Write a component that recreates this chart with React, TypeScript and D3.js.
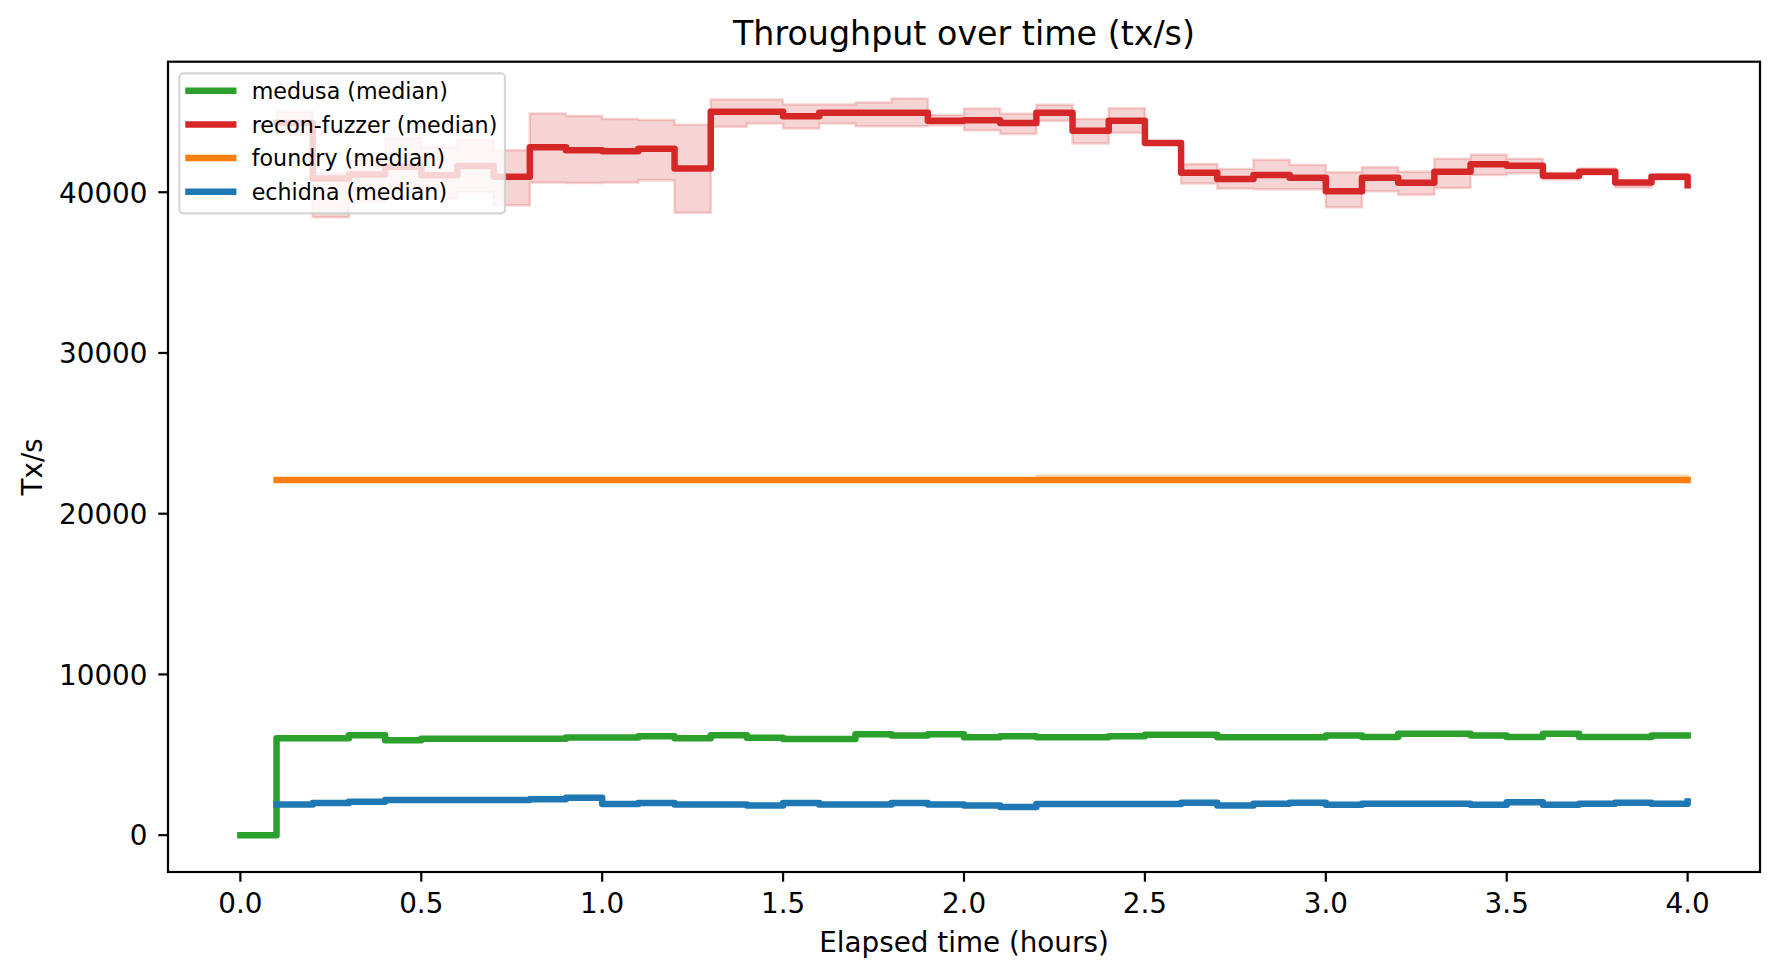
import React from "react";
import * as d3 from "d3";

const WIDTH = 1780;
const HEIGHT = 978;

// Elapsed time samples (hours)
const MEDUSA_HOURS = [0.0, 0.1, 0.2, 0.3, 0.4, 0.5, 0.6, 0.7, 0.8, 0.9, 1.0, 1.1, 1.2, 1.3, 1.4, 1.5, 1.6, 1.7, 1.8, 1.9, 2.0, 2.1, 2.2, 2.3, 2.4, 2.5, 2.6, 2.7, 2.8, 2.9, 3.0, 3.1, 3.2, 3.3, 3.4, 3.5, 3.6, 3.7, 3.8, 3.9, 4.0];
const HOURS = [0.1, 0.2, 0.3, 0.4, 0.5, 0.6, 0.7, 0.8, 0.9, 1.0, 1.1, 1.2, 1.3, 1.4, 1.5, 1.6, 1.7, 1.8, 1.9, 2.0, 2.1, 2.2, 2.3, 2.4, 2.5, 2.6, 2.7, 2.8, 2.9, 3.0, 3.1, 3.2, 3.3, 3.4, 3.5, 3.6, 3.7, 3.8, 3.9, 4.0];

const MEDUSA_MEDIAN = [0, 6036, 6036, 6223, 5912, 5993, 5993, 5993, 5993, 6074, 6074, 6160, 6036, 6223, 6060, 5980, 5980, 6285, 6204, 6285, 6098, 6160, 6098, 6098, 6160, 6243, 6243, 6098, 6098, 6098, 6205, 6100, 6310, 6310, 6205, 6100, 6310, 6100, 6100, 6205, 6205];

const RECON_MEDIAN = [44300, 40850, 41100, 41580, 41060, 41640, 40960, 42800, 42620, 42550, 42700, 41480, 45000, 45000, 44730, 44940, 44940, 44940, 44440, 44480, 44300, 44950, 43830, 44440, 43070, 41220, 40820, 41070, 40900, 40060, 40900, 40590, 41280, 41740, 41650, 41020, 41270, 40600, 40960, 40440];
const RECON_LO = [43600, 38450, 39400, 40300, 39600, 40000, 39190, 40600, 40570, 40600, 40750, 38730, 44070, 44280, 43960, 44280, 44110, 44110, 44170, 43860, 43620, 44440, 43040, 43700, 43070, 40540, 40230, 40190, 40190, 39070, 40060, 39850, 40270, 41070, 41180, 40800, 41100, 40300, 40800, 40440];
const RECON_HI = [45000, 41200, 42000, 43380, 42820, 43280, 42620, 44900, 44750, 44550, 44500, 44200, 45770, 45770, 45460, 45460, 45580, 45830, 44800, 45210, 44880, 45450, 44560, 45220, 43070, 41760, 41450, 42020, 41700, 41240, 41560, 41280, 42080, 42330, 42080, 41200, 41480, 40700, 41100, 40440];

const FOUNDRY_MEDIAN = [22100, 22100, 22100, 22100, 22100, 22100, 22100, 22100, 22100, 22100, 22100, 22100, 22100, 22100, 22100, 22100, 22100, 22100, 22100, 22100, 22100, 22100, 22100, 22100, 22100, 22100, 22100, 22100, 22100, 22100, 22100, 22100, 22100, 22100, 22100, 22100, 22100, 22100, 22100, 22100];
const FOUNDRY_LO = [22050, 22050, 22050, 22050, 22050, 22050, 22050, 22050, 22050, 22050, 22050, 22050, 22050, 22050, 22050, 22050, 22050, 22050, 22050, 22050, 22050, 22050, 22050, 22050, 22050, 22050, 22050, 22050, 22050, 22050, 22050, 22050, 22050, 22050, 22050, 22050, 22050, 22050, 22050, 22050];
const FOUNDRY_HI = [22150, 22150, 22150, 22150, 22150, 22150, 22150, 22150, 22150, 22150, 22150, 22150, 22150, 22150, 22150, 22150, 22150, 22150, 22150, 22150, 22150, 22400, 22400, 22400, 22400, 22400, 22400, 22400, 22400, 22400, 22400, 22400, 22400, 22400, 22400, 22400, 22400, 22400, 22400, 22400];

const ECHIDNA_MEDIAN = [1910, 1997, 2078, 2184, 2184, 2184, 2184, 2228, 2327, 1935, 1997, 1910, 1910, 1847, 1997, 1910, 1910, 1997, 1910, 1847, 1760, 1935, 1935, 1935, 1935, 2016, 1847, 1955, 2016, 1890, 1953, 1953, 1953, 1890, 2055, 1890, 1953, 2015, 1953, 2097];

const SERIES_NAMES = ["medusa", "recon-fuzzer", "foundry", "echidna"];
const SERIES_COLORS = ["#2ca02c", "#d62728", "#ff7f0e", "#1f77b4"];

const X_TICKS = [0.0, 0.5, 1.0, 1.5, 2.0, 2.5, 3.0, 3.5, 4.0];
const Y_TICKS = [0, 10000, 20000, 30000, 40000];

const TITLE = "Throughput over time (tx/s)";
const X_LABEL = "Elapsed time (hours)";
const Y_LABEL = "Tx/s";

type Pt = { x: number; y: number };
type Band = { x: number; lo: number; hi: number };

const zip = (xs: number[], ys: number[]): Pt[] => xs.map((x, i) => ({ x, y: ys[i] }));
const zipBand = (xs: number[], lo: number[], hi: number[]): Band[] =>
  xs.map((x, i) => ({ x, lo: lo[i], hi: hi[i] }));

export default function App() {
  const left = 168;
  const right = 1760;
  const top = 61.7;
  const bottom = 872;
  const font = "'DejaVu Sans', sans-serif";

  const lines: Pt[][] = [
    zip(MEDUSA_HOURS, MEDUSA_MEDIAN),
    zip(HOURS, RECON_MEDIAN),
    zip(HOURS, FOUNDRY_MEDIAN),
    zip(HOURS, ECHIDNA_MEDIAN),
  ];
  const bands: (Band[] | null)[] = [
    null,
    zipBand(HOURS, RECON_LO, RECON_HI),
    zipBand(HOURS, FOUNDRY_LO, FOUNDRY_HI),
    null,
  ];

  const allX = MEDUSA_HOURS.concat(HOURS);
  const allY = ([] as number[]).concat(MEDUSA_MEDIAN, RECON_LO, RECON_HI, FOUNDRY_HI, ECHIDNA_MEDIAN);
  const [x0, x1] = d3.extent(allX) as [number, number];
  const [y0, y1] = d3.extent(allY) as [number, number];
  const mx = (x1 - x0) * 0.05;
  const my = (y1 - y0) * 0.05;

  const x = d3.scaleLinear().domain([x0 - mx, x1 + mx]).range([left, right]);
  const y = d3.scaleLinear().domain([y0 - my, y1 + my]).range([bottom, top]);

  const lineGen = d3
    .line<Pt>()
    .x((d) => x(d.x))
    .y((d) => y(d.y))
    .curve(d3.curveStepAfter);
  const areaGen = d3
    .area<Band>()
    .x((d) => x(d.x))
    .y0((d) => y(d.lo))
    .y1((d) => y(d.hi))
    .curve(d3.curveStepAfter);

  const lw = 6.5;
  const tickLen = 9.7;
  const spineW = 2.2;

  // legend
  const legX = 179.3;
  const legY = 73.3;
  const legW = 325.7;
  const legH = 140;
  const rowY0 = 90.7;
  const rowStep = 33.7;

  return (
    <svg
      width={WIDTH}
      height={HEIGHT}
      viewBox={`0 0 ${WIDTH} ${HEIGHT}`}
      style={{ position: "absolute", left: 0, top: 0, background: "#fff" }}
      fontFamily={font}
    >
      <rect x={0} y={0} width={WIDTH} height={HEIGHT} fill="#fff" />
      <defs>
        <clipPath id="plotclip">
          <rect x={left} y={top} width={right - left} height={bottom - top} />
        </clipPath>
      </defs>

      <g clipPath="url(#plotclip)">
        {bands.map((b, i) =>
          b ? (
            <path
              key={`band-${i}`}
              d={areaGen(b) || ""}
              fill={SERIES_COLORS[i]}
              fillOpacity={0.2}
              stroke={SERIES_COLORS[i]}
              strokeOpacity={0.2}
              strokeWidth={2.5}
              strokeLinejoin="miter"
            />
          ) : null
        )}
        {lines.map((l, i) => (
          <path
            key={`line-${i}`}
            d={lineGen(l) || ""}
            fill="none"
            stroke={SERIES_COLORS[i]}
            strokeWidth={lw}
            strokeLinejoin="round"
            strokeLinecap="square"
          />
        ))}
      </g>

      {/* spines */}
      <rect
        x={left}
        y={top}
        width={right - left}
        height={bottom - top}
        fill="none"
        stroke="#000"
        strokeWidth={spineW}
      />

      {/* x ticks */}
      {X_TICKS.map((t) => (
        <g key={`xt-${t}`}>
          <line x1={x(t)} x2={x(t)} y1={bottom} y2={bottom + tickLen} stroke="#000" strokeWidth={spineW} />
          <text x={x(t)} y={bottom + 40.7} textAnchor="middle" fontSize={27.8} fill="#000">
            {t.toFixed(1)}
          </text>
        </g>
      ))}

      {/* y ticks */}
      {Y_TICKS.map((t) => (
        <g key={`yt-${t}`}>
          <line x1={left - tickLen} x2={left} y1={y(t)} y2={y(t)} stroke="#000" strokeWidth={spineW} />
          <text x={left - 20.5} y={y(t) + 10.3} textAnchor="end" fontSize={27.8} fill="#000">
            {String(t)}
          </text>
        </g>
      ))}

      {/* labels */}
      <text x={(left + right) / 2} y={45} textAnchor="middle" fontSize={33.3} fill="#000">
        {TITLE}
      </text>
      <text x={(left + right) / 2} y={952} textAnchor="middle" fontSize={27.8} fill="#000">
        {X_LABEL}
      </text>
      <text
        transform={`translate(42, ${(top + bottom) / 2}) rotate(-90)`}
        textAnchor="middle"
        fontSize={27.8}
        fill="#000"
      >
        {Y_LABEL}
      </text>

      {/* legend */}
      <rect
        x={legX}
        y={legY}
        width={legW}
        height={legH}
        rx={4}
        ry={4}
        fill="#fff"
        fillOpacity={0.8}
        stroke="#cccccc"
        strokeOpacity={0.8}
        strokeWidth={2.2}
      />
      {SERIES_NAMES.map((name, i) => {
        const cy = rowY0 + i * rowStep;
        return (
          <g key={`leg-${name}`}>
            <line
              x1={188.5}
              x2={233.2}
              y1={cy}
              y2={cy}
              stroke={SERIES_COLORS[i]}
              strokeWidth={lw}
              strokeLinecap="square"
            />
            <text x={251.7} y={cy + 8.3} fontSize={22.2} fill="#000">
              {`${name} (median)`}
            </text>
          </g>
        );
      })}
    </svg>
  );
}
